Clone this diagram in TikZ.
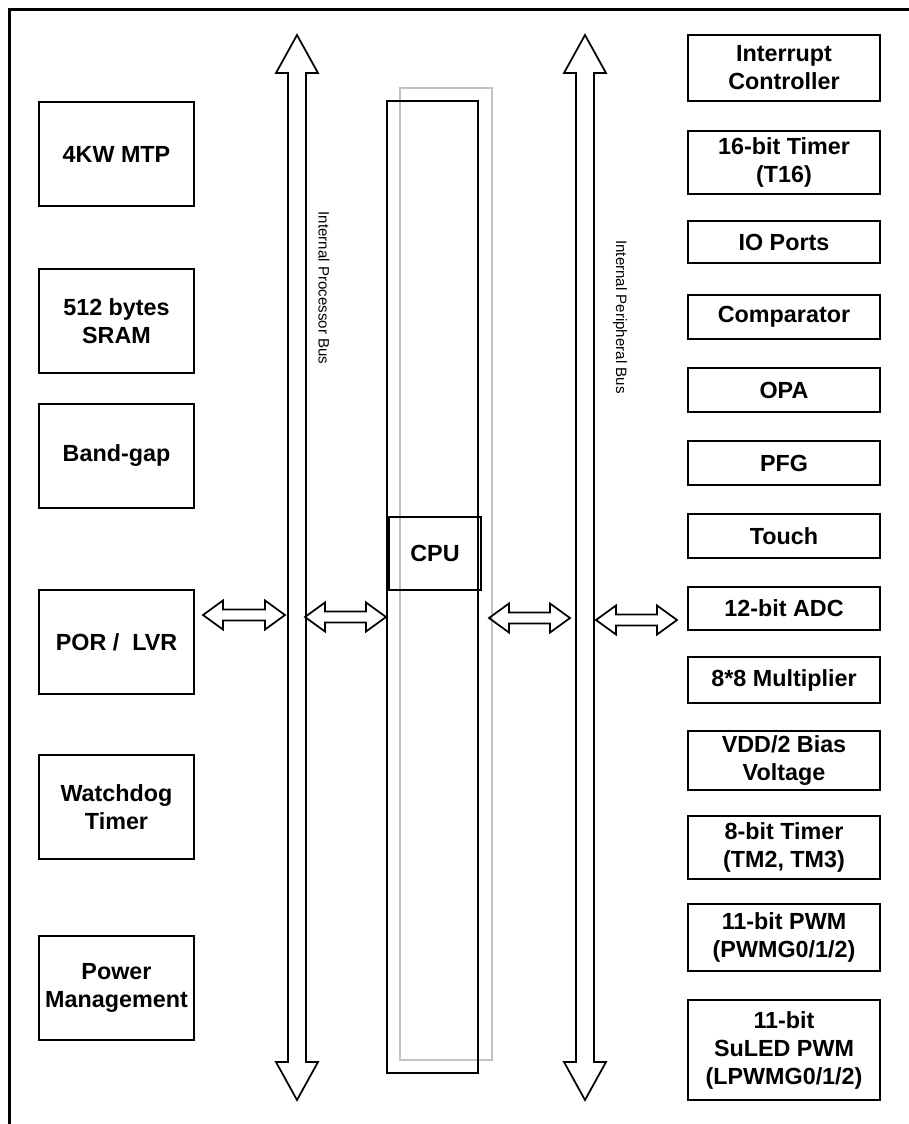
\documentclass[tikz,border=0pt]{standalone}
\usepackage{fontspec}
\setmainfont{Liberation Sans}
\usetikzlibrary{calc}
\definecolor{cpugray}{RGB}{195,195,195}
\newcommand{\blkfont}{\fontsize{17.5}{21}\selectfont\bfseries}
\tikzstyle{outline} = [draw=black, line width=1.3pt, line join=miter]
\tikzstyle{blk} = [outline, align=center, inner sep=0pt, font=\blkfont]
\tikzstyle{leftblk} = [blk, minimum width=116pt, minimum height=78pt]
\tikzstyle{rightblk} = [blk, minimum width=144pt]
\tikzstyle{buslabel} = [rotate=-90, font=\fontsize{11.3}{13}\selectfont]
\newcommand{\busarrow}[2]{%
	\draw[outline] let \p1=#1, \p2=#2 in
		(\x1,\y1) -- (\x1+15.75pt,\y1-28.5pt) -- (\x1+6.75pt,\y1-28.5pt)
		-- (\x1+6.75pt,\y2+28.5pt) -- (\x1+15.75pt,\y2+28.5pt) -- (\x1,\y2)
		-- (\x1-15.75pt,\y2+28.5pt) -- (\x1-6.75pt,\y2+28.5pt)
		-- (\x1-6.75pt,\y1-28.5pt) -- (\x1-15.75pt,\y1-28.5pt) -- cycle;}
\newcommand{\biarrow}[2]{%
	\draw[outline] let \p1=#1, \p2=#2 in
		(\x1,\y1) -- (\x1+15pt,\y1+10.9pt) -- (\x1+15pt,\y1+4.1pt)
		-- (\x2-15pt,\y1+4.1pt) -- (\x2-15pt,\y1+10.9pt) -- (\x2,\y1)
		-- (\x2-15pt,\y1-10.9pt) -- (\x2-15pt,\y1-4.1pt)
		-- (\x1+15pt,\y1-4.1pt) -- (\x1+15pt,\y1-10.9pt) -- cycle;}

\begin{document}
\begin{tikzpicture}[x=0.75pt, y=-0.75pt]
		\useasboundingbox (0,0) rectangle (909,1124);
		\draw[line width=2.6pt] (9.5,1135) -- (9.5,9.5) -- (920,9.5);

		\node[leftblk] (mtp) at (116.5,154) {4KW MTP};
		\node[leftblk] (sram) at (116.5,321) {512 bytes\\SRAM};
		\node[leftblk] (bandgap) at (116.5,456) {Band-gap};
		\node[leftblk] (por) at (116.5,642) {POR /~~LVR};
		\node[leftblk] (wdt) at (116.5,807) {Watchdog\\Timer};
		\node[leftblk] (pwr) at (116.5,988) {Power\\Management};

		\coordinate (pbtop) at (297,35);
		\coordinate (pbbot) at (297,1100);
		\coordinate (ppbtop) at (585,35);
		\coordinate (ppbbot) at (585,1100);
		\busarrow{(pbtop)}{(pbbot)}
		\busarrow{(ppbtop)}{(ppbbot)}
		\node[buslabel] (pblabel) at (324,288) {Internal Processor Bus};
		\node[buslabel] (ppblabel) at (620,317) {Internal Peripheral Bus};

		\draw[cpugray, line width=1.3pt] (400,88) rectangle (492,1060);
		\draw[outline] (387,101) rectangle (478,1073);
		\node[blk, minimum width=69pt, minimum height=54.75pt] (cpu) at (435,553.5) {CPU};

		\node[rightblk, minimum height=49.5pt] (intc) at (784,68) {Interrupt\\Controller};
		\node[rightblk, minimum height=47.25pt] (tsixteen) at (784,162.5) {16-bit Timer\\(T16)};
		\node[rightblk, minimum height=31.5pt] (ioports) at (784,242) {IO Ports};
		\node[rightblk, minimum height=33pt] (cmp) at (784,317) {Comparator};
		\node[rightblk, minimum height=33pt] (opa) at (784,390) {OPA};
		\node[rightblk, minimum height=33pt] (pfg) at (784,463) {PFG};
		\node[rightblk, minimum height=33pt] (touch) at (784,536) {Touch};
		\node[rightblk, minimum height=32.25pt] (adc) at (784,608.5) {12-bit ADC};
		\node[rightblk, minimum height=34.5pt] (mult) at (784,680) {8*8 Multiplier};
		\node[rightblk, minimum height=44.25pt] (bias) at (784,760.5) {VDD/2 Bias\\Voltage};
		\node[rightblk, minimum height=47.25pt] (teight) at (784,847.5) {8-bit Timer\\(TM2, TM3)};
		\node[rightblk, minimum height=50.25pt] (pwm) at (784,937.5) {11-bit PWM\\(PWMG0/1/2)};
		\node[rightblk, minimum height=75pt] (ledpwm) at (784,1050) {11-bit\\SuLED PWM\\(LPWMG0/1/2)};

		\coordinate (a1w) at (203,615);
		\coordinate (a1e) at (285,615);
		\coordinate (a2w) at (305,617);
		\coordinate (a2e) at (386,617);
		\coordinate (a3w) at (489,618);
		\coordinate (a3e) at (570,618);
		\coordinate (a4w) at (596,620);
		\coordinate (a4e) at (677,620);
		\biarrow{(a1w)}{(a1e)}
		\biarrow{(a2w)}{(a2e)}
		\biarrow{(a3w)}{(a3e)}
		\biarrow{(a4w)}{(a4e)}
	\end{tikzpicture}
\end{document}
